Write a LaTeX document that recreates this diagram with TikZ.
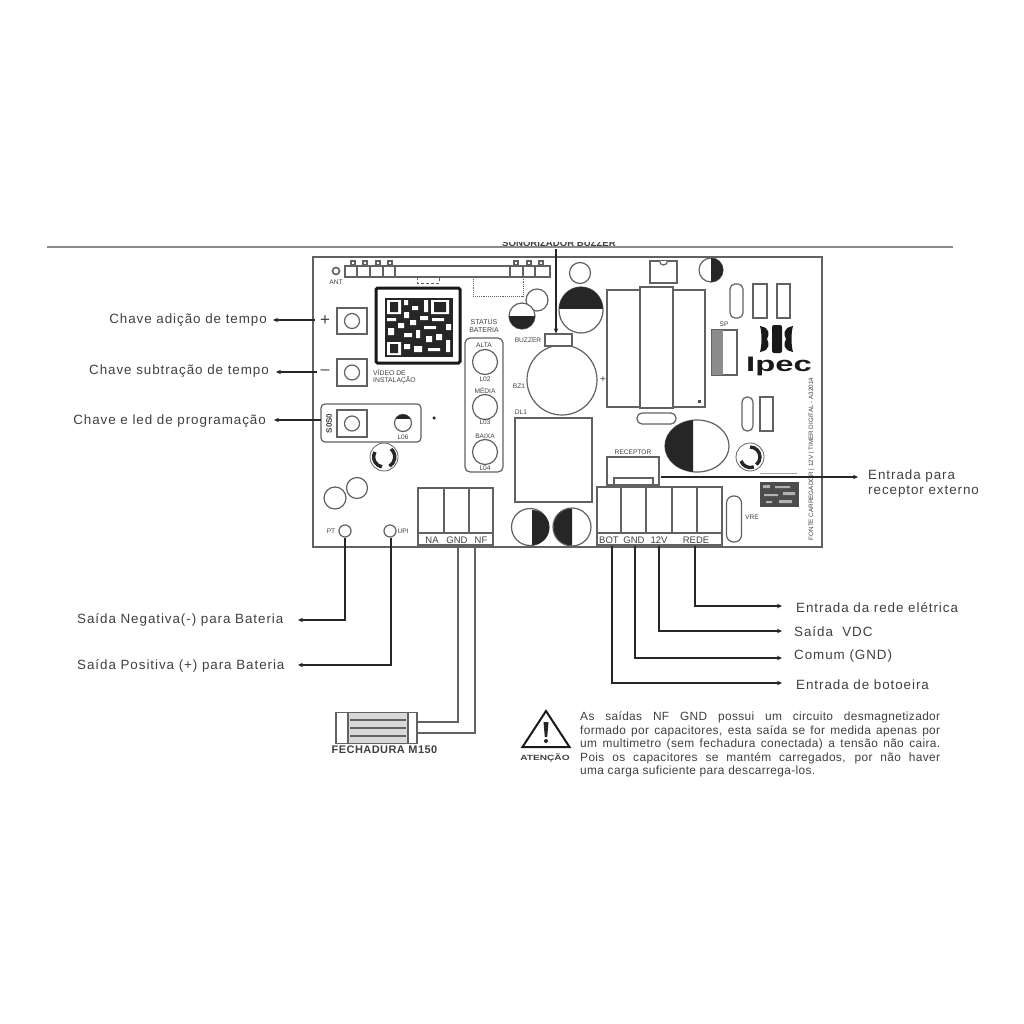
\documentclass[tikz,border=0pt]{standalone}
\usepackage{graphicx}
\usepackage{fontspec}
\setmainfont{Liberation Sans}
\usetikzlibrary{arrows.meta,shapes.geometric}
\definecolor{inkline}{gray}{0.15}
\definecolor{partline}{gray}{0.38}
\definecolor{labelink}{gray}{0.25}
\tikzset{
    part/.style={draw=partline, line width=1.2pt, fill=white},
    oval/.style={part, rounded corners=5pt},
    hole/.style={part, circle, inner sep=0pt},
    led/.style={hole, minimum size=25pt},
    silk/.style={font=\fontsize{6.6}{7}\selectfont, text=labelink, inner sep=0pt},
    termtext/.style={font=\fontsize{9.5}{10}\selectfont, text=labelink, inner sep=0pt},
    callout/.style={font=\fontsize{13.4}{15}\selectfont\addfontfeatures{LetterSpace=7}, text=labelink, inner sep=0pt},
    wire/.style={draw=inkline, line width=1.5pt},
    leader/.style={wire, -{Stealth[length=5pt,width=4.5pt]}}
}
\begin{document}
\begin{tikzpicture}[x=1pt, y=-1pt]
    \useasboundingbox (0,0) rectangle (1024,1024);
    \fill[white] (0,0) rectangle (1024,1024);

    % top rule and the cut-off heading
    \begin{scope}
        \clip (480,242.6) rectangle (640,247);
        \node[font=\fontsize{9.6}{10}\selectfont\bfseries, text=labelink, inner sep=0pt] (headtext) at (559,243) {SONORIZADOR BUZZER};
    \end{scope}
    \draw[draw=black!45, line width=2.2pt] (47,247) -- (953,247);

    % board
    \node[draw=partline, line width=1.5pt, minimum width=509pt, minimum height=290pt, inner sep=0pt] (board) at (567.5,402) {};

    % antenna header
    \node[hole, minimum size=7pt, line width=1.6pt] (ant) at (336,271) {};
    \node[silk] (antlabel) at (336,282) {ANT};
    \draw[part] (345,266) rectangle (550,277);
    \draw[part] (357,266) -- (357,277) (370,266) -- (370,277) (383,266) -- (383,277) (395,266) -- (395,277);
    \draw[part] (510,266) -- (510,277) (523,266) -- (523,277) (535,266) -- (535,277);
    \draw[part] (351,261) rectangle (355,265) (363,261) rectangle (367,265) (376,261) rectangle (380,265) (388,261) rectangle (392,265);
    \draw[part] (514,261) rectangle (518,265) (527,261) rectangle (531,265) (539,261) rectangle (543,265);
    \draw[partline, densely dashed, line width=0.7pt] (417,277) -- (417,283) -- (439,283) -- (439,277);
    \draw[partline, densely dotted, line width=0.9pt] (473,277) -- (473,296) -- (523,296) -- (523,277);

    % time keys
    \node[part, minimum width=30pt, minimum height=26pt, inner sep=0pt] (keyplus) at (352,321) {};
    \node[hole, minimum size=15pt] (keyplushole) at (352,321) {};
    \node[font=\fontsize{17}{17}\selectfont, text=labelink, inner sep=0pt] (plussign) at (325,320.5) {+};
    \node[part, minimum width=30pt, minimum height=27pt, inner sep=0pt] (keyminus) at (352,372.5) {};
    \node[hole, minimum size=15pt] (keyminushole) at (352,372.5) {};
    \node[font=\fontsize{16}{16}\selectfont, text=labelink, inner sep=0pt] (minussign) at (325,372) {--};

    % programming group
    \node[part, rounded corners=4pt, minimum width=100pt, minimum height=38pt, inner sep=0pt] (proggroup) at (371,423) {};
    \node[part, minimum width=30pt, minimum height=27pt, inner sep=0pt] (keyprog) at (352,423.5) {};
    \node[hole, minimum size=15pt] (keyproghole) at (352,423.5) {};
    \node[font=\fontsize{8}{8}\selectfont\bfseries, text=labelink, rotate=90, inner sep=0pt] (progtext) at (329,423.5) {S0S0};
    \node[hole, minimum size=17pt] (progled) at (403,423) {};
    \begin{scope}
        \clip (394,414) rectangle (412,418);
        \fill[black!85] (403,423) circle (8.5pt);
    \end{scope}
    \node[silk] (progledlabel) at (403,437) {L06};
    \node[circle, fill=black!85, minimum size=3.5pt, inner sep=0pt] (pcbdot) at (434,418) {};

    % qr code
    \node[draw=black!90, line width=3pt, rounded corners=1.5pt, minimum width=84pt, minimum height=75pt, inner sep=0pt] (qrframe) at (418,325.5) {};
    \fill[black!85] (385,298) rectangle (453,357);
    \fill[white] (387,300) rectangle (401,314) (431,300) rectangle (449,314) (387,342) rectangle (401,355);
    \fill[black!85] (390,302) rectangle (398,312) (434,302) rectangle (446,312) (390,344) rectangle (398,353);
    \fill[white] (404,300) rectangle (408,305) (412,306) rectangle (418,310) (424,300) rectangle (428,312) (404,312) rectangle (409,318);
    \fill[white] (387,318) rectangle (396,321) (398,323) rectangle (404,328) (388,328) rectangle (394,335) (410,320) rectangle (416,325);
    \fill[white] (420,316) rectangle (428,320) (432,318) rectangle (444,321) (446,324) rectangle (451,330) (424,326) rectangle (436,329);
    \fill[white] (404,333) rectangle (412,337) (416,330) rectangle (420,338) (404,344) rectangle (410,349) (414,346) rectangle (422,352);
    \fill[white] (426,336) rectangle (432,342) (436,334) rectangle (442,340) (446,340) rectangle (450,352) (428,348) rectangle (440,351);
    \node[silk, align=left, anchor=north west, font=\fontsize{6.8}{7.4}\selectfont] (qrlabel) at (373,369) {VÍDEO DE\\INSTALAÇÃO};

    % battery status
    \node[silk, align=center, font=\fontsize{7}{8}\selectfont] (statuslabel) at (484,326) {STATUS\\BATERIA};
    \node[part, rounded corners=5pt, minimum width=38pt, minimum height=134pt, inner sep=0pt] (statusbox) at (484,405) {};
    \node[led] (ledhigh) at (485,362) {};
    \node[led] (ledmid) at (485,407) {};
    \node[led] (ledlow) at (485,452) {};
    \node[silk] (ledhightext) at (484,345) {ALTA};
    \node[silk] (ledhighname) at (485,379) {L02};
    \node[silk] (ledmidtext) at (485,390.5) {MÉDIA};
    \node[silk] (ledmidname) at (485,422.5) {L03};
    \node[silk] (ledlowtext) at (485,436) {BAIXA};
    \node[silk] (ledlowname) at (485,468) {L04};

    % rings
    \node[circle, draw=partline, line width=0.8pt, minimum size=28pt, inner sep=0pt] (ringleft) at (384,457) {};
    \draw[black!85, line width=3.4pt] (391,449) arc (50:-60:10.5pt);
    \draw[black!85, line width=3.4pt] (375,452) arc (150:260:10pt);
    \node[circle, draw=partline, line width=0.8pt, minimum size=28pt, inner sep=0pt] (ringright) at (750,457) {};
    \draw[black!85, line width=3.4pt] (750,447) arc (90:-50:10pt);
    \draw[black!85, line width=3.4pt] (741,461) arc (200:290:10pt);

    % small capacitors, left
    \node[hole, minimum size=22pt] (capa) at (335,498) {};
    \node[hole, minimum size=21pt] (capb) at (357,488) {};
    \node[hole, minimum size=12pt] (ptpad) at (345,531) {};
    \node[hole, minimum size=12pt] (upipad) at (390,531) {};
    \node[silk] (pttext) at (331,531) {PT};
    \node[silk] (upitext) at (403,531) {UPI};

    % lock terminals
    \node[part, minimum width=75pt, minimum height=57pt, inner sep=0pt] (lockblock) at (455.5,516.5) {};
    \draw[part] (444,488) -- (444,533) (469,488) -- (469,533) (418,533) -- (493,533);
    \node[termtext] (termna) at (432,540) {NA};
    \node[termtext] (termgnd) at (457,540) {GND};
    \node[termtext] (termnf) at (481,540) {NF};

    % power terminals
    \node[part, minimum width=125pt, minimum height=58pt, inner sep=0pt] (powerblock) at (659.5,516) {};
    \draw[part] (621,487) -- (621,533) (646,487) -- (646,533) (672,487) -- (672,533) (697,487) -- (697,533) (597,533) -- (722,533);
    \node[termtext] (termbot) at (609,540) {BOT};
    \node[termtext] (termcom) at (634,540) {GND};
    \node[termtext] (termvdc) at (659,540) {12V};
    \node[termtext] (termrede) at (696,540) {REDE};
    \node[part, rounded corners=7pt, minimum width=15pt, minimum height=46pt, inner sep=0pt] (vre) at (734,519) {};
    \node[silk] (vretext) at (752,517) {VRE};

    % capacitors under the transformer
    \node[hole, minimum size=37pt] (capc) at (530,527) {};
    \fill[black!85] (532,510) arc (90:-90:17.5pt) -- cycle;
    \node[hole, minimum size=38pt] (capd) at (572,527) {};
    \fill[black!85] (572,508.5) arc (90:270:18.5pt) -- cycle;

    % transformer
    \node[silk] (dltext) at (521,412) {DL1};
    \node[part, minimum width=77pt, minimum height=84pt, inner sep=0pt] (transformer) at (553.5,460) {};

    % receiver socket
    \node[silk] (recvtext) at (633,452) {RECEPTOR};
    \node[part, minimum width=52pt, minimum height=28pt, inner sep=0pt] (receiver) at (633,471) {};
    \node[part, minimum width=39pt, minimum height=7pt, inner sep=0pt] (receiverin) at (633.5,481.5) {};

    % buzzer area
    \node[hole, minimum size=21pt] (captop) at (580,273) {};
    \node[hole, minimum size=22pt] (cape) at (537,300) {};
    \node[hole, minimum size=26pt] (capf) at (522,316) {};
    \fill[black!85] (509,316) arc (180:360:13pt) -- cycle;
    \node[part, ellipse, minimum width=44pt, minimum height=46pt, inner sep=0pt] (capbig) at (581,310) {};
    \begin{scope}
        \clip (555,285) rectangle (605,308);
        \fill[black!85] (581,310) ellipse (22pt and 23pt);
    \end{scope}
    \node[hole, minimum size=70pt] (bzcoil) at (562,380) {};
    \node[part, minimum width=27pt, minimum height=12pt, inner sep=0pt] (buzzer) at (558.5,340) {};
    \node[silk] (buzzertext) at (528,340) {BUZZER};
    \node[silk] (bztext) at (519,386) {BZ1};
    \node[font=\fontsize{10}{10}\selectfont, text=labelink, inner sep=0pt] (bzplus) at (603,380) {+};

    % relays
    \node[part, minimum width=33pt, minimum height=117pt, inner sep=0pt] (relaya) at (623.5,348.5) {};
    \node[part, minimum width=32pt, minimum height=117pt, inner sep=0pt] (relayc) at (689,348.5) {};
    \node[part, minimum width=33pt, minimum height=121pt, inner sep=0pt, line width=1.6pt] (relayb) at (656.5,347.5) {};
    \node[fill=black!70, minimum size=3pt, inner sep=0pt] (relaymark) at (699,401) {};
    \node[part, minimum width=27pt, minimum height=22pt, inner sep=0pt] (icnotch) at (663.5,272) {};
    \draw[part] (659.5,261) arc (180:360:4pt);
    \node[hole, minimum size=24pt] (capg) at (711,270) {};
    \fill[black!85] (711,258) arc (90:-90:12pt) -- cycle;
    \node[oval, minimum width=39pt, minimum height=11pt, inner sep=0pt] (ovalmid) at (656.5,418.5) {};

    % upper right parts
    \node[oval, minimum width=13pt, minimum height=34pt, inner sep=0pt] (ovala) at (736.5,301) {};
    \node[part, minimum width=14pt, minimum height=34pt, inner sep=0pt] (rectb) at (760,301) {};
    \node[part, minimum width=13pt, minimum height=34pt, inner sep=0pt] (rectc) at (783.5,301) {};
    \node[silk] (sptext) at (724,324) {SP};
    \node[part, minimum width=25pt, minimum height=45pt, inner sep=0pt] (spbox) at (724.5,352.5) {};
    \fill[black!45] (712,330) rectangle (723,375);
    \node[part, rounded corners=5pt, minimum width=11pt, minimum height=34pt, inner sep=0pt] (ovald) at (747.5,414) {};
    \node[part, minimum width=13pt, minimum height=34pt, inner sep=0pt] (recte) at (766.5,414) {};

    % maker mark
    \fill[black!90] (760,326) .. controls (771,328) and (769,335) .. (767,339) .. controls (769,343) and (771,350) .. (760,352) .. controls (762,345) and (762,333) .. (760,326);
    \fill[black!90] (793,326) .. controls (782,328) and (784,335) .. (786,339) .. controls (784,343) and (782,350) .. (793,352) .. controls (791,345) and (791,333) .. (793,326);
    \fill[black!90, rounded corners=2pt] (772,325) rectangle (782,353);
    \node[font=\fontsize{21}{21}\selectfont\bfseries, text=black!90, inner sep=0pt] (logotext) at (779,366) {\scalebox{1.56}[1]{Ipec}};

    % big capacitor
    \node[part, ellipse, minimum width=64pt, minimum height=52pt, inner sep=0pt] (capmain) at (697,446) {};
    \begin{scope}
        \clip (660,415) rectangle (693,478);
        \fill[black!85] (697,446) ellipse (32pt and 26pt);
    \end{scope}

    % lower right
    \draw[black!35, line width=1pt] (760,473) -- (797,473);
    \fill[black!70] (760,482) rectangle (799,507);
    \fill[white!70!black] (763,485) rectangle (770,488) (775,486) rectangle (790,488) (764,494) rectangle (778,496) (783,492) rectangle (795,495) (766,501) rectangle (772,503) (779,500) rectangle (792,503);
    \node[silk, rotate=90, font=\fontsize{6.3}{7}\selectfont] (boardtitle) at (811.5,459) {FONTE CARREGADOR | 12V | TIMER DIGITAL - A32014};

    % callouts, left
    \node[callout, anchor=east] (chaveadd) at (267,320) {Chave adição de tempo};
    \node[callout, anchor=east] (chavesub) at (269,371) {Chave subtração de tempo};
    \node[callout, anchor=east] (chaveprog) at (266,421) {Chave e led de programação};
    \node[callout, anchor=west] (saidaneg) at (77,620) {Saída Negativa(-) para Bateria};
    \node[callout, anchor=west] (saidapos) at (77,666) {Saída Positiva (+) para Bateria};
    \coordinate (addend) at (315,320);
    \coordinate (subend) at (317,372);
    \coordinate (progend) at (321,420);
    \draw[leader] (addend) -- (273,320);
    \draw[leader] (subend) -- (276,372);
    \draw[leader] (progend) -- (274,420);

    % leaders from the battery pads
    \coordinate (negturn) at (345,620);
    \coordinate (posturn) at (391,665);
    \draw[leader] (ptpad) -- (negturn) -- (298,620);
    \draw[leader] (upipad.south -| posturn) -- (posturn) -- (298,665);

    % buzzer and receiver
    \coordinate (buzzstart) at (556,249);
    \draw[leader] (buzzstart) -- (buzzstart |- buzzer.north);
    \node[callout, anchor=west, align=left] (recvlabel) at (868,484) {Entrada para\\receptor externo};
    \coordinate (recvend) at (661,477);
    \draw[leader] (recvend) -- (858,477);

    % callouts, right
    \node[callout, anchor=west] (entrede) at (796,608) {Entrada da rede elétrica};
    \node[callout, anchor=west] (saidavdc) at (794,632) {Saída\ \ VDC};
    \node[callout, anchor=west] (comum) at (794,656.5) {Comum (GND)};
    \node[callout, anchor=west] (entbot) at (796,685) {Entrada de botoeira};
    \coordinate (redeturn) at (695,606);
    \coordinate (vdcturn) at (659,631);
    \coordinate (comturn) at (635,658);
    \coordinate (botturn) at (612,683);
    \draw[leader] (redeturn |- powerblock.south) -- (redeturn) -- (782,606);
    \draw[leader] (vdcturn |- powerblock.south) -- (vdcturn) -- (782,631);
    \draw[leader] (comturn |- powerblock.south) -- (comturn) -- (782,658);
    \draw[leader] (botturn |- powerblock.south) -- (botturn) -- (782,683);

    % lock
    \node[part, minimum width=81pt, minimum height=31pt, inner sep=0pt] (lockbody) at (376.5,728) {};
    \node[part, fill=black!15, minimum width=60pt, minimum height=31pt, inner sep=0pt] (lockcore) at (378,728) {};
    \draw[partline, line width=2pt] (350,720) -- (406,720) (350,728) -- (406,728) (350,736) -- (406,736);
    \node[font=\fontsize{11}{12}\selectfont\bfseries\addfontfeatures{LetterSpace=4}, text=labelink, inner sep=0pt] (locktext) at (384.5,750) {FECHADURA M150};
    \coordinate (gndturn) at (458,722);
    \coordinate (nfturn) at (475,733);
    \draw[wire, draw=partline] (gndturn |- lockblock.south) -- (gndturn) -- (gndturn -| lockbody.east);
    \draw[wire, draw=partline] (nfturn |- lockblock.south) -- (nfturn) -- (nfturn -| lockbody.east);

    % warning
    \coordinate (warntop) at (546,711);
    \coordinate (warnleft) at (522.5,747);
    \coordinate (warnright) at (569.5,747);
    \draw[draw=black!90, line width=2pt, line join=miter] (warntop) -- (warnleft) -- (warnright) -- cycle;
    \fill[black!85] (543.5,722) -- (548.5,722) -- (547.2,737) -- (544.8,737) -- cycle;
    \fill[black!85] (546,741) circle (2pt);
    \node[font=\fontsize{7.5}{8}\selectfont\bfseries, text=labelink, inner sep=0pt] (warntext) at (545,757.5) {\scalebox{1.35}[1]{ATENÇÃO}};
    \node[anchor=north west, text width=360pt, align=justify, inner sep=0pt, text=labelink, font=\fontsize{11.9}{13.6}\selectfont\addfontfeatures{LetterSpace=3}] (warnnote) at (580,711.5) {As saídas NF GND possui um circuito desmagnetizador\linebreak formado por capacitores, esta saída se for medida apenas por\linebreak um multimetro (sem fechadura conectada) a tensão não caira.\linebreak Pois os capacitores se mantém carregados, por não haver\linebreak uma carga suficiente para descarrega-los.};
\end{tikzpicture}
\end{document}
